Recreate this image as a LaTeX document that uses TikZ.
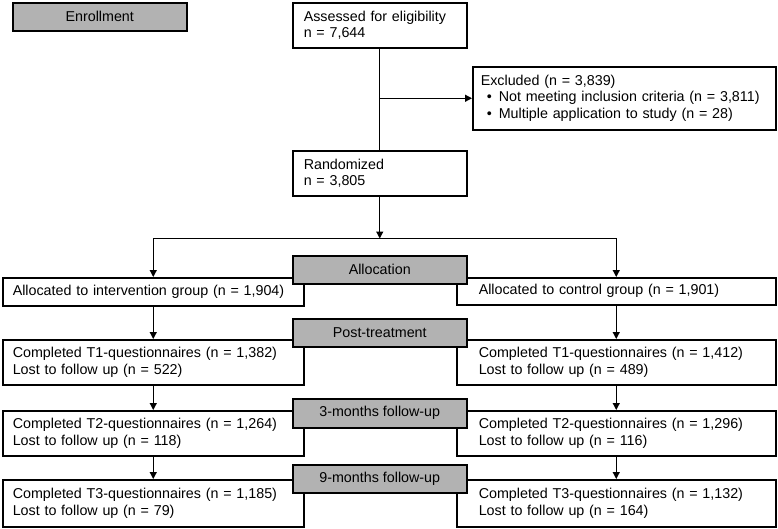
\documentclass[tikz,border=0pt]{standalone}
\usepackage{fontspec}
\setmainfont{Liberation Sans}
\usetikzlibrary{arrows.meta, positioning}

\newcommand{\bul}{\makebox[18pt][l]{\hspace{6pt}\textbullet}}

\tikzset{
    box/.style={draw, line width=1.5pt, fill=white, anchor=north west, align=left, inner ysep=0pt, font=\fontsize{14.3}{16.8}\selectfont},
    lbox/.style={box, text width=281pt, inner xsep=10pt},
    rbox/.style={box, text width=275pt, inner xsep=22pt},
    cbox/.style={box, text width=152pt, inner xsep=11pt},
    phase/.style={draw, line width=1.5pt, fill=gray!60, anchor=north west, minimum width=174pt, minimum height=28pt, inner sep=0pt, align=center, font=\fontsize{14.3}{16.8}\selectfont},
    arr/.style={-{Triangle[length=7pt, width=7pt]}, line width=1.2pt},
    link/.style={line width=1.2pt}
}

\begin{document}
\begin{tikzpicture}[x=1pt, y=-1pt]
        \useasboundingbox (0, 0) rectangle (778, 528);

        % enrollment
        \node[cbox, minimum height=45pt] (assessed) at (292, 2) {Assessed for eligibility\\n = 7,644};
        \node[box, text width=287pt, inner xsep=8pt, minimum height=63pt] (excluded) at (472, 66) {Excluded (n = 3,839)\\\bul\mbox{Not meeting inclusion criteria (n = 3,811)}\\\bul\mbox{Multiple application to study (n = 28)}};
        \node[cbox, minimum height=45pt] (randomized) at (292, 150) {Randomized\\n = 3,805};

        % two arms
        \node[lbox, minimum height=28pt] (allocint) at (2, 277) {Allocated to intervention group (n = 1,904)};
        \node[rbox, minimum height=27pt] (alloccon) at (456, 277) {Allocated to control group (n = 1,901)};
        \node[lbox, minimum height=45pt] (toneint) at (2, 339) {Completed T1-questionnaires (n = 1,382)\\Lost to follow up (n = 522)};
        \node[rbox, minimum height=45pt] (tonecon) at (456, 339) {Completed T1-questionnaires (n = 1,412)\\Lost to follow up (n = 489)};
        \node[lbox, minimum height=45pt] (ttwoint) at (2, 410) {Completed T2-questionnaires (n = 1,264)\\Lost to follow up (n = 118)};
        \node[rbox, minimum height=45pt] (ttwocon) at (456, 410) {Completed T2-questionnaires (n = 1,296)\\Lost to follow up (n = 116)};
        \node[lbox, minimum height=47pt] (tthreeint) at (2, 479) {Completed T3-questionnaires (n = 1,185)\\Lost to follow up (n = 79)};
        \node[rbox, minimum height=47pt] (tthreecon) at (456, 479) {Completed T3-questionnaires (n = 1,132)\\Lost to follow up (n = 164)};

        % phase labels
        \node[phase] (enrollment) at (12, 2) {Enrollment};
        \node[phase] (allocation) at (292, 255) {Allocation};
        \node[phase] (posttreat) at (292, 318) {Post-treatment};
        \node[phase, minimum height=29pt] (threemonths) at (292, 398) {3-months follow-up};
        \node[phase] (ninemonths) at (292, 464) {9-months follow-up};

        \path (randomized.south) ++(0, 42) coordinate (split);

        \draw[link] (assessed) -- (randomized)
            (allocint.north |- split) -- (alloccon.north |- split);
        \draw[arr] (assessed.south |- excluded.west) -- (excluded.west);
        \draw[arr] (randomized) -- (split);
        \draw[arr] (split) -| (allocint.north);
        \draw[arr] (split) -| (alloccon.north);
        \draw[arr] (allocint) -- (toneint);
        \draw[arr] (alloccon) -- (tonecon);
        \draw[arr] (toneint) -- (ttwoint);
        \draw[arr] (tonecon) -- (ttwocon);
        \draw[arr] (ttwoint) -- (tthreeint);
        \draw[arr] (ttwocon) -- (tthreecon);
    \end{tikzpicture}
\end{document}
